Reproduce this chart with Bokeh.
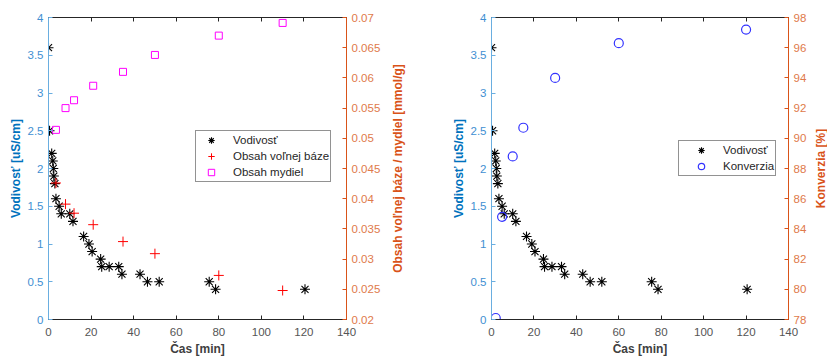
from bokeh.plotting import figure
from bokeh.models import (Range1d, LinearAxis, FixedTicker, CustomJSTickFormatter,
                          Legend, LegendItem)
from bokeh.layouts import row
from bokeh.embed import file_html
from bokeh.resources import INLINE

# ---------------- data ----------------
cas_vod = [0, 0.5, 1.5, 2, 2.25, 2.5, 3, 3.5, 5, 6, 10, 11.5, 16.5, 19, 20.5, 24.5, 25,
           28.5, 33, 34.5, 43, 46.5, 52, 75.5, 78.5, 120.5]
vodivost = [3.6, 2.5, 2.2, 2.1, 2.0, 1.9, 1.8, 1.6, 1.5, 1.4, 1.4, 1.3, 1.1, 1.0, 0.9, 0.8, 0.7,
            0.7, 0.7, 0.6, 0.6, 0.5, 0.5, 0.5, 0.4, 0.4]

cas_baza = [3.5, 8, 12, 21, 35, 50, 80, 110]
obsah_baze = [0.0426, 0.0391, 0.0376, 0.0357, 0.0329, 0.0309, 0.0273, 0.0248]

cas_mydla = [3.5, 8, 12, 21, 35, 50, 80, 110]
obsah_mydiel = [0.0514, 0.0550, 0.0563, 0.0587, 0.0610, 0.0638, 0.0670, 0.0691]

cas_konv = [2, 5, 10, 15, 30, 60, 120]
konverzia = [78.1, 84.8, 88.8, 90.7, 94.0, 96.3, 97.2]

x_ticks = [0, 20, 40, 60, 80, 100, 120, 140]
y_ticks = [0, 0.5, 1, 1.5, 2, 2.5, 3, 3.5, 4]
y2_ticks = [0.02, 0.025, 0.03, 0.035, 0.04, 0.045, 0.05, 0.055, 0.06, 0.065, 0.07]
k_ticks = [78, 80, 82, 84, 86, 88, 90, 92, 94, 96, 98]

# ---------------- style ----------------
FONT = "Liberation Sans"
BLUE = "#0072BD"
BLUE_T = "#3f8fd2"
BLUE_L = "#6aaee0"
ORANGE = "#D95319"
ORANGE_T = "#e07a4a"
DARK = "#262626"
GRAY_T = "#555555"
TICK_FS = "11.5px"
LAB_FS = "12px"

fmt_num = CustomJSTickFormatter(code="""
let s = tick.toFixed(3);
s = s.replace(/0+$/, '').replace(/\\.$/, '');
return s;
""")
fmt_blank = CustomJSTickFormatter(code="return '';")


def style_axis(ax, color, tick_color, line_color, label=None, label_color=None):
    ax.major_tick_in = 4
    ax.major_tick_out = 0
    ax.minor_tick_in = 0
    ax.minor_tick_out = 0
    ax.axis_line_color = line_color
    ax.major_tick_line_color = line_color
    ax.major_label_text_color = tick_color
    ax.major_label_text_font = FONT
    ax.major_label_text_font_size = TICK_FS
    ax.major_label_standoff = 5
    if label is not None:
        ax.axis_label = label
        ax.axis_label_text_font = FONT
        ax.axis_label_text_font_size = LAB_FS
        ax.axis_label_text_font_style = "bold"
        ax.axis_label_text_color = label_color or color
        ax.axis_label_standoff = 2


def make_fig(width, left, right, y2_range, y2_ticks_):
    p = figure(width=width, height=358, output_backend="svg", toolbar_location=None,
               x_range=Range1d(0, 140), y_range=Range1d(0, 4),
               min_border_left=left, min_border_right=right,
               min_border_top=17, min_border_bottom=38,
               x_axis_location=None, y_axis_location=None)
    p.xgrid.visible = False
    p.ygrid.visible = False
    p.outline_line_color = DARK
    p.outline_line_width = 1
    p.background_fill_color = "white"
    p.border_fill_color = "white"
    p.extra_y_ranges = {"r": y2_range}

    xb = LinearAxis(ticker=FixedTicker(ticks=x_ticks))
    style_axis(xb, DARK, GRAY_T, DARK, "Čas [min]", "#404040")
    xb.axis_label_standoff = 3
    xb.major_label_standoff = 8
    p.add_layout(xb, "below")

    xt = LinearAxis(ticker=FixedTicker(ticks=x_ticks), formatter=fmt_blank)
    style_axis(xt, DARK, GRAY_T, DARK)
    xt.major_label_standoff = 0
    p.add_layout(xt, "above")

    yl = LinearAxis(ticker=FixedTicker(ticks=y_ticks), formatter=fmt_num)
    style_axis(yl, BLUE, BLUE_T, BLUE_L, "Vodivosť [uS/cm]", BLUE)
    p.add_layout(yl, "left")

    yr = LinearAxis(y_range_name="r", ticker=FixedTicker(ticks=y2_ticks_), formatter=fmt_num)
    style_axis(yr, ORANGE, ORANGE_T, ORANGE)
    p.add_layout(yr, "right")
    return p


def label_fig(width, left, text):
    """Narrow strip that only carries the right-hand axis title (reads bottom-to-top)."""
    q = figure(width=width, height=358, output_backend="svg", toolbar_location=None,
               x_range=Range1d(0, 1), y_range=Range1d(0, 1),
               min_border_left=left, min_border_right=0,
               min_border_top=17, min_border_bottom=38,
               x_axis_location=None, y_axis_location=None)
    q.xgrid.visible = False
    q.ygrid.visible = False
    q.outline_line_color = None
    q.background_fill_color = "white"
    q.border_fill_color = "white"
    ax = LinearAxis(ticker=FixedTicker(ticks=[]), formatter=fmt_blank)
    ax.axis_line_color = None
    ax.major_tick_line_color = None
    ax.minor_tick_line_color = None
    ax.major_label_standoff = 0
    ax.axis_label = text
    ax.axis_label_standoff = 0
    ax.axis_label_text_font = FONT
    ax.axis_label_text_font_size = LAB_FS
    ax.axis_label_text_font_style = "bold"
    ax.axis_label_text_color = ORANGE
    q.add_layout(ax, "left")
    return q


# ---------------- left chart ----------------
p1 = make_fig(386, 48, 40, Range1d(0.02, 0.07), y2_ticks)
r_vod1 = p1.scatter(cas_vod, vodivost, marker="asterisk", size=10, line_color="black",
                    line_width=1.1)
r_baza = p1.scatter(cas_baza, obsah_baze, marker="cross", size=10, line_color="#FF0000",
                    line_width=1, y_range_name="r")
r_myd = p1.scatter(cas_mydla, obsah_mydiel, marker="square", size=7, line_color="#FF00FF",
                   fill_color=None, line_width=1, y_range_name="r")
lab1 = label_fig(24, 18, "Obsah voľnej báze / mydiel [mmol/g]")

leg1 = Legend(items=[LegendItem(label="Vodivosť", renderers=[r_vod1]),
                     LegendItem(label="Obsah voľnej báze", renderers=[r_baza]),
                     LegendItem(label="Obsah mydiel", renderers=[r_myd])],
              location=(147, 137))

# ---------------- right chart ----------------
p2 = make_fig(400, 81, 22, Range1d(78, 98), k_ticks)
r_vod2 = p2.scatter(cas_vod, vodivost, marker="asterisk", size=10, line_color="black",
                    line_width=1.1)
r_konv = p2.scatter(cas_konv, konverzia, marker="circle", size=9, line_color="#3333FF",
                    fill_color=None, line_width=1.2, y_range_name="r")
lab2 = label_fig(17, 16, "Konverzia [%]")
leg2 = Legend(items=[LegendItem(label="Vodivosť", renderers=[r_vod2]),
                     LegendItem(label="Konverzia", renderers=[r_konv])],
              location=(187, 143))

for lg, p, gw, st in [(leg1, p1, 28, 8), (leg2, p2, 42, 1)]:
    lg.border_line_color = DARK
    lg.border_line_width = 1
    lg.background_fill_color = "white"
    lg.background_fill_alpha = 1
    lg.label_text_font = FONT
    lg.label_text_font_size = "11.5px"
    lg.label_text_color = DARK
    lg.glyph_width = gw
    lg.glyph_height = 16
    lg.label_height = 16
    lg.label_standoff = st
    lg.padding = 1
    lg.spacing = 0
    lg.margin = 0
    p.add_layout(lg, "center")

layout = row(p1, lab1, p2, lab2, spacing=0)
open("out.html", "w").write(file_html(layout, INLINE))
